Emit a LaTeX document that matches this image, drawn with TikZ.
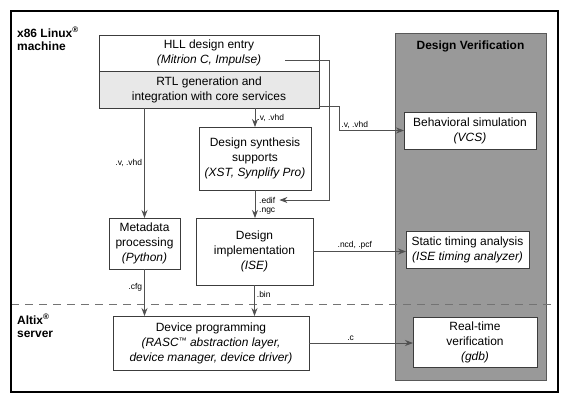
\documentclass[tikz,border=0pt]{standalone}
\usepackage{fontspec}
\setmainfont{Liberation Sans}
\usetikzlibrary{arrows.meta,positioning,calc}
\definecolor{frameline}{RGB}{60,60,60}
\definecolor{rtlfill}{RGB}{232,232,232}
\definecolor{verifill}{RGB}{153,153,153}
\definecolor{connect}{RGB}{80,80,80}
\newcommand{\smalltm}{\raisebox{2.5bp}{\fontsize{8}{8}\selectfont\texttrademark}}

\begin{document}
\begin{tikzpicture}[
  x=1bp, y=-1bp,
  box/.style={draw=frameline, line width=0.8bp, fill=white, align=center, inner sep=2bp, outer sep=0pt, font=\fontsize{12}{15}\selectfont},
  ext/.style={font=\fontsize{8.5}{10}\selectfont, inner sep=2bp},
  arrow/.style={draw=connect, line width=0.8bp, -{Stealth[length=8bp,width=6bp]}},
  heading/.style={font=\fontsize{12}{13}\selectfont\bfseries, align=left, inner sep=0pt},
  cutline/.style={draw=black!55, line width=1bp, dash pattern=on 8bp off 6bp},
]
\useasboundingbox (0,0) rectangle (570,404);
% verification column
\node[draw=black!65, line width=1bp, fill=verifill, minimum width=151bp, minimum height=347bp, inner sep=0pt] (verif) at (470.5,206.5) {};
\node[heading] (dvtitle) at (470.5,46) {Design Verification};
% machine boundary
\draw[cutline] (11,304) -- (558,304);
\draw[line width=2.8bp] (11,11) rectangle (558,392);
\node[heading, anchor=north west] (linux) at (17,27) {x86 Linux\textsuperscript{®}\\machine};
\node[heading, anchor=north west] (altix) at (17,314) {Altix\textsuperscript{®}\\server};

% tool flow
\node[box, minimum width=220bp, minimum height=36bp] (hll) at (209,53) {HLL design entry\\\textit{(Mitrion C, Impulse)}};
\node[box, fill=rtlfill, minimum width=220bp, minimum height=37bp, below=0pt of hll] (rtl) {RTL generation and\\integration with core services};
\node[box, minimum width=112bp, minimum height=63bp] (synth) at (255,158.5) {Design synthesis\\supports\\\textit{(XST, Synplify Pro)}};
\node[box, minimum width=71bp, minimum height=51bp] (meta) at (144.5,243.5) {Metadata\\processing\\\textit{(Python)}};
\node[box, minimum width=117bp, minimum height=67bp] (impl) at (254.5,251.5) {Design\\implementation\\\textit{(ISE)}};
\node[box, minimum width=196bp, minimum height=54bp] (devprog) at (211,343) {Device programming\\\textit{(RASC\smalltm\ abstraction layer,}\\\textit{device manager, device driver)}};
\node[box, minimum width=132bp, minimum height=37bp] (behav) at (470,130.5) {Behavioral simulation\\\textit{(VCS)}};
\node[box, minimum width=123bp, minimum height=37bp] (sta) at (467.5,249.5) {Static timing analysis\\\textit{(ISE timing analyzer)}};
\node[box, minimum width=124bp, minimum height=50bp] (rtv) at (475,342) {Real-time\\verification\\\textit{(gdb)}};

% connectors
\coordinate (hllout) at (285,60);
\node[ext, anchor=west] (edif) at (257,200) {.edif};
\node[ext, anchor=west] (ngc) at (257,211) {.ngc};
\draw[arrow] (hllout) -- ++(44,0) |- ([xshift=2bp]edif.east);
\draw[arrow] ([yshift=2bp]rtl.south east) -- ++(20,0) |- (behav.west) node[ext, pos=0.5, above right] (vbeh) {.v, .vhd};
\draw[arrow] (rtl.south -| synth.north) -- (synth.north) node[ext, midway, right] (vsyn) {.v, .vhd};
\draw[arrow] (rtl.south -| meta.north) -- (meta.north) node[ext, midway, left] (vmeta) {.v, .vhd};
\draw[arrow] (synth.south) -- (synth.south |- impl.north);
\draw[arrow] (impl.east) -- (impl.east -| sta.west) node[ext, pos=0.45, above] (ncd) {.ncd, .pcf};
\draw[arrow] (meta.south) -- (meta.south |- devprog.north) node[ext, pos=0.38, left] (cfg) {.cfg};
\draw[arrow] (impl.south) -- (impl.south |- devprog.north) node[ext, pos=0.3, right] (bin) {.bin};
\draw[arrow] (devprog.east) -- (devprog.east -| rtv.west) node[ext, pos=0.4, above] (cext) {.c};
\end{tikzpicture}
\end{document}
